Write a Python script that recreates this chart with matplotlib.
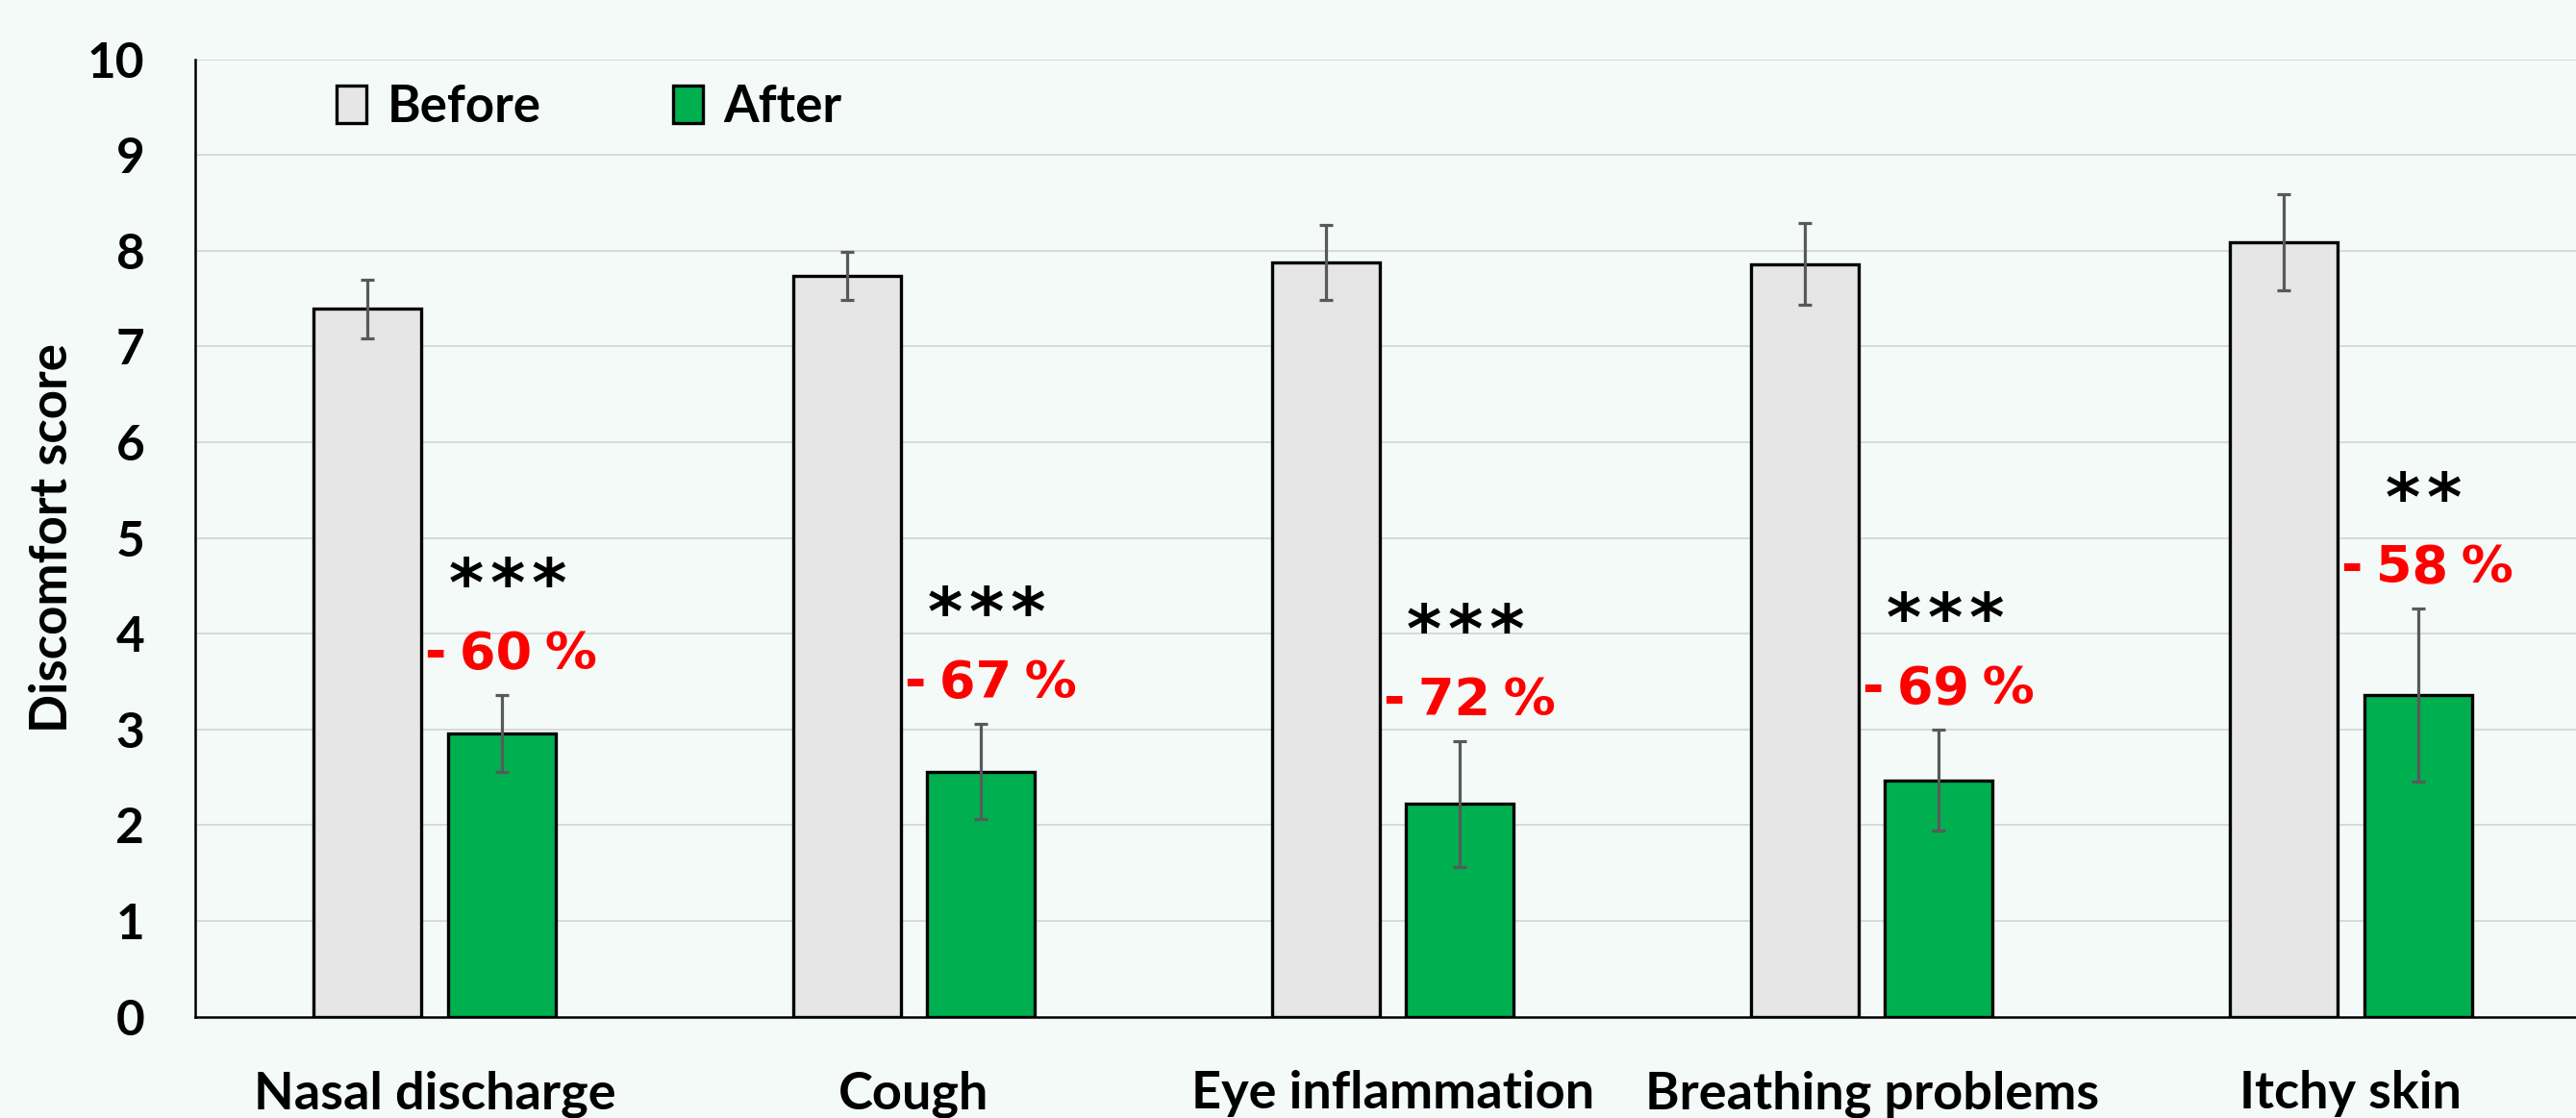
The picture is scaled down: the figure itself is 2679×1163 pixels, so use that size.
import numpy as np
import matplotlib
matplotlib.use('Agg')
import matplotlib.pyplot as plt

categories = ['Nasal discharge', 'Cough', 'Eye inflammation', 'Breathing problems', 'Itchy skin']
before = [7.39, 7.74, 7.88, 7.86, 8.09]
before_err = [0.31, 0.25, 0.39, 0.43, 0.50]
after = [2.96, 2.56, 2.22, 2.47, 3.36]
after_err = [0.40, 0.50, 0.66, 0.53, 0.90]
stars = ['***', '***', '***', '***', '**']
changes = ['- 60 %', '- 67 %', '- 72 %', '- 69 %', '- 58 %']

bg = '#F4FAF8'
label_font = 'Lato'

fig = plt.figure(figsize=(26.79, 11.63), dpi=100, facecolor=bg)
ax = fig.add_axes([0.0758, 0.0907, 0.9242, 0.8564])
ax.set_facecolor(bg)

x = np.arange(len(categories))
w = 0.225
err_style = dict(ecolor='#595959', elinewidth=2.3, capsize=4.7, capthick=2.3)
ax.bar(x - 0.14, before, w, color='#E6E6E6', edgecolor='black', linewidth=2.4,
       yerr=before_err, error_kw=err_style, label='Before', zorder=3)
ax.bar(x + 0.14, after, w, color='#00B050', edgecolor='black', linewidth=2.4,
       yerr=after_err, error_kw=err_style, label='After', zorder=3)

# significance and change labels above the "after" bars
for i in range(len(categories)):
    top = after[i] + after_err[i]
    ax.text(x[i] + 0.16, top + 0.27, changes[i].replace(' ', '\u2005'), color='#FF0000',
            fontsize=39, fontweight='bold', family='DejaVu Sans', ha='center', va='baseline', zorder=4)
    ax.text(x[i] + 0.153, top + 0.93, '\u200a'.join(stars[i]), color='black', fontsize=50,
            fontweight='bold', family='DejaVu Sans', ha='center', va='baseline', zorder=4)

ax.set_xlim(-0.5, 4.47)
ax.set_ylim(0, 10)
ax.set_yticks(range(0, 11))
ax.set_xticks(x)
ax.set_xticklabels(categories, fontsize=39, fontweight='bold', family=label_font)
for lab in ax.get_yticklabels():
    lab.set_fontsize(37)
    lab.set_fontweight('bold')
    lab.set_family(label_font)
ax.tick_params(axis='y', length=0, pad=38)
ax.tick_params(axis='x', length=0, pad=40)

ax.grid(axis='y', color='#D9D9D9', linewidth=1.4, zorder=0)
ax.set_axisbelow(True)
for s in ['top', 'right']:
    ax.spines[s].set_visible(False)
ax.spines['left'].set_linewidth(1.8)
ax.spines['bottom'].set_linewidth(1.8)

ax.set_ylabel('Discomfort score', fontsize=38, fontweight='bold', family=label_font)
ax.yaxis.set_label_coords(-0.05, 0.5)

leg = ax.legend(loc='center left', bbox_to_anchor=(0.04, 0.95), ncol=2, frameon=False,
                prop={'family': label_font, 'weight': 'bold', 'size': 38},
                handlelength=0.6, handleheight=0.75, handletextpad=0.4, columnspacing=2.6)

fig.savefig('out.png', dpi=100, facecolor=bg)
